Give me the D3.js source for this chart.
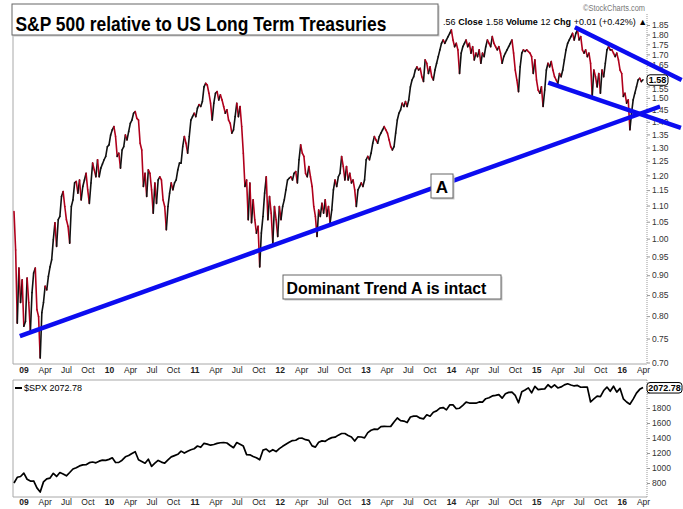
<!DOCTYPE html>
<html><head><meta charset="utf-8">
<script src="https://cdn.jsdelivr.net/npm/d3@7"></script>
<style>
html,body{margin:0;padding:0;background:#fff;}
svg{display:block;font-family:Arial,"Liberation Sans",sans-serif;}
</style></head><body>
<svg id="chart" width="683" height="509"></svg>
<script>
// ---------------- DATA ----------------
const ratioStart = "2008-11-21"; // weekly closes
const ratioValues = [
1.081,0.968,0.784,0.919,0.832,0.888,0.777,
0.788,0.893,0.832,0.765,0.856,0.906,0.919,0.815,0.799,0.709,
0.808,0.832,0.872,0.863,0.897,0.922,0.941,0.997,1.047,0.978,
1.056,1.066,1.129,1.145,1.097,1.056,1.036,0.987,1.097,1.118,
1.174,1.179,1.140,1.184,1.118,1.162,1.184,1.207,1.151,1.107,
1.174,1.243,1.219,1.195,1.255,1.195,1.225,1.240,1.255,1.267,1.303,
1.310,1.348,1.368,1.381,1.342,1.267,1.279,1.225,1.291,1.303,
1.348,1.329,1.361,1.394,1.407,1.435,1.442,1.414,1.407,1.316,
1.291,1.162,1.207,1.129,1.219,1.207,1.151,1.076,1.174,1.107,
1.184,1.195,1.184,1.118,1.097,1.026,1.097,1.140,1.174,1.151,
1.174,1.184,1.219,1.243,1.243,1.303,1.342,1.316,1.279,1.342,
1.407,1.421,1.435,1.421,1.456,1.471,1.463,1.484,1.548,1.564,
1.556,1.520,1.477,1.407,1.477,1.520,1.527,1.491,1.513,
1.491,1.463,1.435,1.449,1.407,1.394,1.355,1.368,1.421,1.477,
1.421,1.463,1.381,1.279,1.162,1.184,1.056,1.174,1.047,1.118,
1.056,1.016,1.036,0.922,1.016,1.066,1.140,1.195,1.056,1.129,
1.076,0.987,1.097,1.056,1.006,1.097,1.056,1.097,1.118,1.151,
1.184,1.190,1.195,1.184,1.207,1.213,1.174,1.255,1.310,1.279,1.267,
1.207,1.195,1.231,1.195,1.162,1.097,1.066,1.006,1.086,1.066,
1.107,1.076,1.118,1.066,1.097,1.047,1.086,1.151,1.184,1.162,
1.195,1.207,1.267,1.231,1.184,1.231,1.184,1.207,1.174,1.184,
1.151,1.097,1.151,1.162,1.174,1.162,1.184,1.255,1.267,1.255,
1.279,1.316,1.342,1.329,1.316,1.342,1.355,1.368,1.381,1.368,1.355,
1.329,1.303,1.291,1.303,1.355,1.407,1.435,1.449,1.477,1.463,
1.484,1.463,1.491,1.548,1.579,1.594,1.625,1.640,1.625,1.633,
1.594,1.572,
1.673,1.657,1.609,1.640,1.594,1.579,1.625,1.657,1.689,1.722,
1.755,1.772,1.755,1.772,1.789,1.806,1.824,1.772,1.738,1.755,
1.722,1.609,1.706,1.738,1.755,1.772,1.738,1.755,1.706,1.738,
1.673,1.706,1.689,1.722,1.657,1.706,1.689,1.738,1.772,1.755,
1.738,1.789,1.755,1.738,1.722,1.738,1.706,1.657,1.689,1.706,
1.722,1.738,1.755,1.772,1.706,1.625,1.579,1.527,1.640,1.706,
1.722,1.714,1.722,1.714,1.706,1.689,1.609,1.673,1.579,1.534,
1.520,1.548,1.463,1.534,1.625,1.657,1.640,1.665,1.625,1.594,
1.579,1.564,1.609,1.594,1.625,1.673,1.722,1.755,1.772,1.789,
1.806,1.772,1.806,1.824,1.772,1.789,1.722,1.706,1.722,1.689,
1.706,1.657,1.506,1.625,1.594,1.548,1.609,1.520,1.625,1.594,
1.657,1.722,1.738,1.722,1.722,1.706,1.689,1.706,1.673,1.625,
1.609,1.506,1.520,1.477,1.491,1.368,1.435,1.491,1.520,1.548,
1.579,1.587,1.572,1.58
];
const spxStart = "2008-11-21"; // bi-weekly closes
const spxValues = [
800,876,887,
931,850,826,827,735,680,815,856,866,929,887,940,921,896,940,987,1004,1028,1042,1044,1071,1080,1069,1091,1105,1102,
1115,1136,1073,1075,1104,1149,1166,1194,1217,1110,1087,1064,1117,1022,1064,1101,1079,1064,1109,1148,1165,1183,1225,1199,1224,1243,1257,
1293,1276,1329,1319,1304,1313,1328,1337,1340,1333,1300,1271,1339,1316,1292,1178,1176,1154,1136,1110,1238,1253,1216,1244,1219,1258,
1289,1316,1342,1366,1370,1397,1398,1378,1369,1295,1278,1343,1362,1356,1385,1405,1411,1438,1460,1460,1433,1414,1359,1416,1413,1402,
1472,1503,1518,1515,1551,1556,1553,1555,1614,1667,1631,1626,1606,1680,1691,1691,1664,1655,1710,1690,1744,1762,1798,1806,1775,1841,
1842,1790,1797,1836,1878,1866,1865,1864,1881,1878,1924,1936,1961,1968,1979,1931,1989,2008,2011,1968,1870,2018,2040,2068,2003,2089,
2045,2051,2055,2110,2071,2108,2067,2081,2108,2123,2107,2094,2101,2077,2079,2078,1880,1921,1958,1951,2033,2079,2023,2090,2012,2061,
1922,1880,1851,1918,1999,2049,2072.78
];
const ratioTicks = [0.70,0.75,0.80,0.85,0.90,0.95,1.00,1.05,1.10,1.15,1.20,1.25,1.30,1.35,1.40,1.45,1.50,1.55,1.60,1.65,1.70,1.75,1.80,1.85];
const spxTicks = [800,1000,1200,1400,1600,1800,2000];
const trendLines = [
  {from:["2008-12-16",0.755], to:["2016-06-13",1.463]},
  {from:["2015-06-15",1.838], to:["2016-09-13",1.579]},
  {from:["2015-02-21",1.567], to:["2016-09-10",1.376]}
];
const titleText = "S&P 500 relative to US Long Term Treasuries";
const noteText = "Dominant Trend A is intact";
const labelA = "A";
const headerText = [".56","Close","1.58","Volume","12","Chg","+0.01 (+0.42%) \u25B2"];
const lastRatio = "1.58", lastSpx = "2072.78", spxLegend = "$SPX 2072.78";

// ---------------- LAYOUT ----------------
const svg = d3.select("#chart");
const L = 13, R = 647;
const up = {top: 14, bottom: 364};
const lo = {top: 380, bottom: 497};
const parse = d3.timeParse("%Y-%m-%d");

const x = d3.scaleTime()
  .domain([parse("2008-11-21"), parse("2016-04-01")])
  .range([14, 643]);
const yUp = d3.scaleLog().domain([0.70, 1.85]).range([362.5, 25]);
const yLo = d3.scaleLinear().domain([800, 2000]).range([483, 393]);

const ratio = ratioValues.map((v,i)=>({d:d3.timeDay.offset(parse(ratioStart), 7*i), v}));
const spx = spxValues.map((v,i)=>({d:d3.timeDay.offset(parse(spxStart), 14*i), v}));

// marker positions (last values), clamped inside the panel
const mkUp = Math.max(yUp(+lastRatio), up.top+6);
const mkLo = Math.max(yLo(+lastSpx), lo.top+6);

// panel frames
svg.append("path").attr("d",`M${L},${up.top}V${up.bottom}H${R}`)
  .attr("fill","none").attr("stroke","#a8a8a8");
svg.append("path").attr("d",`M${R},${lo.top}H${L}V${lo.bottom}H${R}`)
  .attr("fill","none").attr("stroke","#a8a8a8");

// x axes
const qTicks = d3.timeMonth.every(3).range(parse("2009-01-01"), parse("2016-04-02"));
function xAxis(yPos){
  const g = svg.append("g").attr("transform",`translate(0,${yPos})`)
    .call(d3.axisBottom(x).tickValues(qTicks).tickSize(0).tickPadding(0)
      .tickFormat(d => d.getMonth()===0 ? d3.timeFormat("%y")(d) : d3.timeFormat("%b")(d)));
  g.select(".domain").remove();
  g.selectAll("text").attr("font-size",8.5).attr("fill","#222")
    .attr("font-weight", d => d.getMonth()===0 ? "bold" : "normal")
    .attr("font-family","Arial,'Liberation Sans',sans-serif");
}
xAxis(up.bottom+3); xAxis(lo.bottom+2);

// y axes (right); labels hidden behind the last-value marker are not drawn,
// labels just next to it are nudged away from it
function yAxis(scale, ticks, p, fmt, mk){
  svg.append("line").attr("x1",R).attr("x2",R).attr("y1",p.top).attr("y2",p.bottom)
    .attr("stroke","#999").attr("stroke-dasharray","1,1");
  const g = svg.append("g").attr("transform",`translate(${R},0)`)
    .call(d3.axisRight(scale).tickValues(ticks).tickSize(3).tickPadding(2).tickFormat(fmt));
  g.select(".domain").remove();
  g.selectAll(".tick line").attr("stroke","#999");
  g.selectAll("text").attr("font-size",8.5).attr("fill","#333")
    .attr("font-family","Arial,'Liberation Sans',sans-serif");
  g.selectAll(".tick").filter(d => Math.abs(scale(d)-mk) < 6).select("text").remove();
  g.selectAll(".tick").filter(d => { const dd = scale(d)-mk; return Math.abs(dd) >= 6 && Math.abs(dd) < 10.5; })
    .select("text").attr("transform", d => `translate(0,${scale(d) > mk ? 2.8 : -2.8})`);
}
yAxis(yUp, ratioTicks, up, d3.format(".2f"), mkUp);
yAxis(yLo, spxTicks, lo, d3.format("d"), mkLo);

// ratio line: black for up moves, red for down moves
const segs = svg.append("g");
for (let i=1;i<ratio.length;i++){
  const a = ratio[i-1], b = ratio[i];
  segs.append("line")
    .attr("x1",x(a.d)).attr("y1",yUp(a.v)).attr("x2",x(b.d)).attr("y2",yUp(b.v))
    .attr("stroke", b.v>=a.v ? "#111" : "#b0001c").attr("stroke-width",1.6)
    .attr("stroke-linecap","round");
}

// spx line
svg.append("path").datum(spx)
  .attr("d", d3.line().x(d=>x(d.d)).y(d=>yLo(d.v)))
  .attr("fill","none").attr("stroke","#000").attr("stroke-width",1.7)
  .attr("stroke-linejoin","round");

// trend lines
svg.append("g").selectAll("line").data(trendLines).join("line")
  .attr("x1",d=>x(parse(d.from[0]))).attr("y1",d=>yUp(d.from[1]))
  .attr("x2",d=>x(parse(d.to[0]))).attr("y2",d=>yUp(d.to[1]))
  .attr("stroke","#0c0cf0").attr("stroke-width",4.5);

// boxed labels (text squeezed horizontally with a transform to the target width)
function box(x0,y0,w,h,text,fs,targetW,base){
  svg.append("rect").attr("x",x0+1.5).attr("y",y0+1.5).attr("width",w).attr("height",h)
    .attr("fill","#c8c8c8");
  svg.append("rect").attr("x",x0).attr("y",y0).attr("width",w).attr("height",h)
    .attr("fill","#fff").attr("stroke","#666").attr("stroke-width",1);
  const g = svg.append("g");
  const t = g.append("text").attr("x",0).attr("y",0)
    .attr("font-size",fs).attr("font-weight","bold").attr("fill","#000").text(text);
  if (targetW){
    const nat = t.node().getComputedTextLength();
    g.attr("transform",`translate(${x0+3.5},${y0+base}) scale(${targetW/nat},1)`);
  } else {
    t.attr("text-anchor","middle");
    g.attr("transform",`translate(${x0+w/2},${y0+base})`);
  }
}

// header text (separate pieces laid out left to right)
svg.append("text").attr("x",583).attr("y",11)
  .attr("font-size",8.5).attr("fill","#777").attr("textLength",62).attr("lengthAdjust","spacingAndGlyphs")
  .text("\u00A9StockCharts.com");
{
  let hx = 443;
  headerText.forEach((s,i)=>{
    const t = svg.append("text").attr("x",hx).attr("y",25).attr("font-size",9)
      .attr("font-weight", i%2 ? "bold":"normal").attr("fill","#000").text(s);
    hx += t.node().getComputedTextLength() + 2.8;
  });
}

box(12,4,426,31,titleText,21,371,27);
box(431,174,22,24,labelA,17,null,18.5);
box(283,275,218,24,noteText,17,200,18.5);

// last value markers
function marker(yy, txt, w){
  const g = svg.append("g").attr("transform",`translate(${R},${yy})`);
  g.append("rect").attr("x",0).attr("y",-5).attr("width",w).attr("height",10.5).attr("rx",3)
    .attr("fill","#fff").attr("stroke","#000").attr("stroke-width",1);
  g.append("text").attr("x",w/2).attr("y",3.3).attr("text-anchor","middle")
    .attr("font-size",9).attr("font-weight","bold").text(txt);
}
marker(mkUp, lastRatio, 21);
marker(mkLo, lastSpx, 35);

// spx legend
svg.append("line").attr("x1",15).attr("x2",22).attr("y1",388).attr("y2",388).attr("stroke","#000").attr("stroke-width",2);
svg.append("text").attr("x",24).attr("y",391).attr("font-size",9).attr("fill","#000").text(spxLegend);
</script>
</body></html>
